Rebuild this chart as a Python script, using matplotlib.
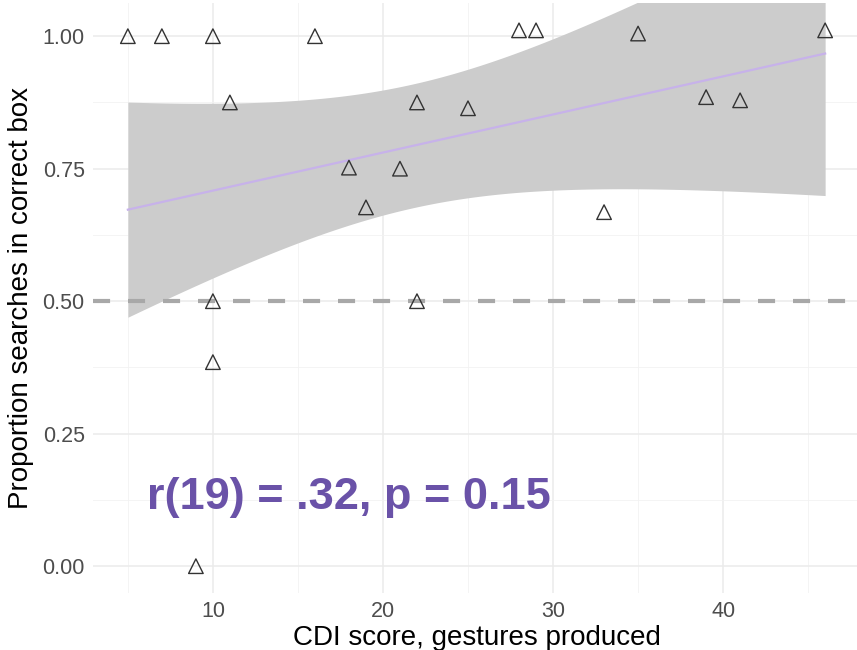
import matplotlib.pyplot as plt
import numpy as np

# CDI gesture scores and proportion of correct searches (one point per child)
cdi_score = [5, 7, 9, 10, 10, 10, 11, 16, 18, 19, 21, 22, 22, 25, 28, 29, 33, 35, 39, 41, 46]
prop_correct = [1.00, 1.00, 0.00, 1.00, 0.50, 0.385, 0.875, 1.00, 0.752, 0.677, 0.750,
                0.875, 0.500, 0.864, 1.011, 1.011, 0.668, 1.005, 0.885, 0.879, 1.011]
annotation = "r(19) = .32, p = 0.15"

x = np.array(cdi_score, dtype=float)
y = np.array(prop_correct, dtype=float)

# linear fit with 95% confidence band (like geom_smooth(method="lm"))
n = len(x)
slope, intercept = np.polyfit(x, y, 1)
resid = y - (intercept + slope * x)
s = np.sqrt(np.sum(resid ** 2) / (n - 2))
t_crit = 2.093  # t(0.975, df = 19)
xs = np.linspace(x.min(), x.max(), 200)
ys = intercept + slope * xs
se = s * np.sqrt(1 / n + (xs - x.mean()) ** 2 / np.sum((x - x.mean()) ** 2))

plt.rcParams['font.family'] = ['Liberation Sans', 'DejaVu Sans']

fig = plt.figure(figsize=(8.57, 6.5), dpi=100)
# panel runs off the right/top edge like the cropped screenshot
ax = fig.add_axes([93 / 857, 1 - 593 / 650, (860 - 93) / 857, 590 / 650])
ax.set_xlim(2.95, 48.05)
ax.set_ylim(-0.0506, 1.0626)

ax.set_xticks([10, 20, 30, 40])
ax.set_xticks([5, 15, 25, 35, 45], minor=True)
ax.set_yticks([0, 0.25, 0.5, 0.75, 1.0])
ax.set_yticks([0.125, 0.375, 0.625, 0.875], minor=True)
ax.set_yticklabels(['0.00', '0.25', '0.50', '0.75', '1.00'])
ax.grid(which='major', color='#ebebeb', linewidth=1.1)
ax.grid(which='minor', color='#f2f2f2', linewidth=0.6)
ax.set_axisbelow(True)
for sp in ax.spines.values():
    sp.set_visible(False)
ax.tick_params(which='both', length=0)
ax.tick_params(labelsize=15.5, colors='#4d4d4d', pad=6)

ax.fill_between(xs, ys - t_crit * se, ys + t_crit * se, color='#cccccc', zorder=1, linewidth=0)
ax.plot(xs, ys, color='#c7b2ea', linewidth=1.6, zorder=2)
ax.axhline(0.5, color='#a8a8a8', linewidth=3, linestyle=(0, (4.1, 4.3)), zorder=2)
ax.scatter(x, y, marker='^', s=110, facecolors='none', edgecolors='#333333', linewidths=1.0, zorder=3)

ax.text(6.1, 0.13, annotation, fontsize=32.5, fontweight='bold', color='#6a52a8', va='center')

ax.set_xlabel('CDI score, gestures produced', fontsize=20, labelpad=2)
ax.set_ylabel('Proportion searches in correct box', fontsize=20, labelpad=6)

fig.savefig('out.png', dpi=100)
